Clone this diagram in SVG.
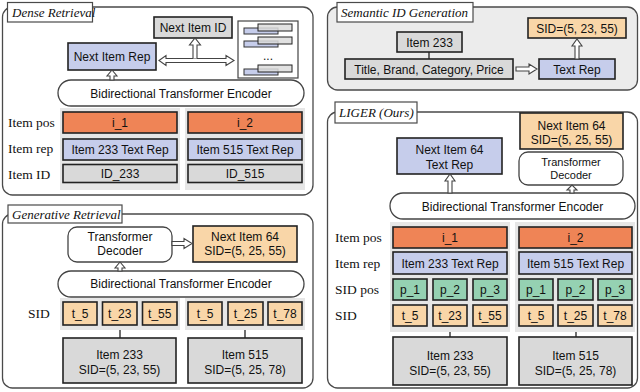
<svg xmlns="http://www.w3.org/2000/svg" width="640" height="392" viewBox="0 0 640 392">
<style>
.frame{fill:#fff;stroke:#4a4a4a;stroke-width:1.3}
.semframe{fill:#ececec;stroke:#4a4a4a;stroke-width:1.3}
.title{fill:#fff;stroke:#4a4a4a;stroke-width:1.2}
.tt{font-family:"Liberation Serif",serif;font-style:italic;font-size:13px;fill:#111}
.lbl{font-family:"Liberation Serif",serif;font-size:13.5px;fill:#111}
.t{font-family:"Liberation Sans",Arial,sans-serif;font-size:12px;fill:#111;text-anchor:middle}
.ts{font-family:"Liberation Sans",Arial,sans-serif;font-size:11px;fill:#111;text-anchor:middle}
.box{stroke:#222;stroke-width:1.6}
.gray{fill:#d9d9d9}
.blue{fill:#c6cdeb}
.orange{fill:#ef8456}
.lorange{fill:#f9d6a8}
.green{fill:#95d1b2}
.white{fill:#fff}
.enc{fill:#fff;stroke:#444;stroke-width:1.3}
.grp{fill:#e6e6e6}
.arr{fill:#fff;stroke:#444;stroke-width:1.1;stroke-linejoin:miter}
.ln{stroke:#222;stroke-width:1.3;fill:none}
.bb{fill:#c6cdeb;stroke:#333;stroke-width:1}
.gb{fill:#dcdcdc;fill-opacity:0.85;stroke:#222;stroke-width:1}
</style>

<!-- Dense Retrieval -->
<g id="dense-panel">
<rect class="frame" x="2.5" y="7" width="310.5" height="188" rx="10"/>
<rect class="title" x="7.5" y="2.5" width="85" height="19.5"/>
<text class="tt" x="12" y="17">Dense Retrieval</text>
</g>
<g id="dense-next-id"><rect class="box gray" x="154" y="17" width="78" height="21"/><text class="t" x="193" y="31.5">Next Item ID</text></g>
<g id="dense-bars">
<rect class="box white" x="238" y="21" width="60" height="57" style="stroke:#444;stroke-width:1.2"/>
<rect class="bb" x="244" y="28" width="34" height="6"/>
<rect class="gb" x="258" y="24" width="34" height="7"/>
<rect class="bb" x="244" y="41" width="34" height="6"/>
<rect class="gb" x="258" y="37" width="34" height="7"/>
<text class="t" x="268" y="60">...</text>
<rect class="bb" x="244" y="69" width="34" height="6"/>
<rect class="gb" x="258" y="65" width="34" height="7"/>
</g>
<g id="dense-next-rep"><rect class="box blue" x="68" y="43" width="88" height="27"/><text class="t" x="112" y="61">Next Item Rep</text></g>
<g id="dense-encoder"><rect class="enc" x="58" y="80" width="246" height="26" rx="13"/><text class="t" x="181" y="98">Bidirectional Transformer Encoder</text></g>
<g id="dense-col1">
<rect class="grp" x="60" y="108" width="120" height="82"/>
<rect class="box orange" x="63" y="112" width="114" height="21"/><text class="t" x="120" y="127">i_1</text>
<rect class="box blue" x="63" y="139" width="114" height="21"/><text class="t" x="120" y="154">Item 233 Text Rep</text>
<rect class="box gray" x="63" y="164.5" width="114" height="18"/><text class="t" x="120" y="178">ID_233</text>
</g>
<g id="dense-col2">
<rect class="grp" x="185" y="108" width="120" height="82"/>
<rect class="box orange" x="188" y="112" width="114" height="21"/><text class="t" x="245" y="127">i_2</text>
<rect class="box blue" x="188" y="139" width="114" height="21"/><text class="t" x="245" y="154">Item 515 Text Rep</text>
<rect class="box gray" x="188" y="164.5" width="114" height="18"/><text class="t" x="245" y="178">ID_515</text>
</g>
<g id="dense-labels">
<text class="lbl" x="8" y="127">Item pos</text>
<text class="lbl" x="8" y="153">Item rep</text>
<text class="lbl" x="8" y="179">Item ID</text>
</g>

<!-- Generative Retrieval -->
<g id="gen-panel">
<rect class="frame" x="2.5" y="214" width="310.5" height="174" rx="10"/>
<rect class="title" x="8" y="205" width="114" height="18"/>
<text class="tt" x="12" y="219">Generative Retrieval</text>
</g>
<g id="gen-decoder"><rect class="enc" x="68" y="227" width="104" height="35" rx="9"/><text class="t" x="120" y="241">Transformer</text><text class="t" x="120" y="254.5">Decoder</text></g>
<g id="gen-next"><rect class="box lorange" x="193" y="226" width="104" height="36"/><text class="t" x="245" y="241">Next Item 64</text><text class="t" x="245" y="254.5">SID=(5, 25, 55)</text></g>
<g id="gen-encoder"><rect class="enc" x="58" y="271" width="246" height="26" rx="13"/><text class="t" x="181" y="288">Bidirectional Transformer Encoder</text></g>
<g id="gen-tokens1">
<rect class="grp" x="60" y="298" width="120" height="32"/>
<rect class="box lorange" x="63" y="302" width="34" height="23"/><text class="t" x="80" y="318">t_5</text>
<rect class="box lorange" x="102.5" y="302" width="34.5" height="23"/><text class="t" x="119.75" y="318">t_23</text>
<rect class="box lorange" x="142.5" y="302" width="34.5" height="23"/><text class="t" x="159.75" y="318">t_55</text>
</g>
<g id="gen-tokens2">
<rect class="grp" x="185" y="298" width="120" height="32"/>
<rect class="box lorange" x="188" y="302" width="34" height="23"/><text class="t" x="205" y="318">t_5</text>
<rect class="box lorange" x="228" y="302" width="35" height="23"/><text class="t" x="245.5" y="318">t_25</text>
<rect class="box lorange" x="268" y="302" width="34" height="23"/><text class="t" x="285" y="318">t_78</text>
</g>
<g id="gen-label"><text class="lbl" x="28" y="318">SID</text></g>
<g id="gen-item233"><rect class="box gray" x="63" y="338" width="113" height="45"/><text class="t" x="119.5" y="359">Item 233</text><text class="t" x="119.5" y="374">SID=(5, 23, 55)</text></g>
<g id="gen-item515"><rect class="box gray" x="188" y="338" width="114" height="45"/><text class="t" x="245" y="359">Item 515</text><text class="t" x="245" y="374">SID=(5, 25, 78)</text></g>

<!-- Semantic ID Generation -->
<g id="sem-panel">
<rect class="semframe" x="327.5" y="7" width="310" height="83" rx="10"/>
<rect class="title" x="337" y="2.5" width="136" height="19.5"/>
<text class="tt" x="341" y="17">Semantic ID Generation</text>
</g>
<g id="sem-item"><rect class="box gray" x="397" y="32" width="65" height="20"/><text class="t" x="429.5" y="46.5">Item 233</text></g>
<g id="sem-attrs"><rect class="box gray" x="345" y="59" width="168" height="20"/><text class="t" x="429" y="73.5">Title, Brand, Category, Price</text></g>
<g id="sem-textrep"><rect class="box blue" x="539" y="59" width="76" height="20"/><text class="t" x="577" y="73.5">Text Rep</text></g>
<g id="sem-sid"><rect class="box lorange" x="528" y="18" width="98" height="20"/><text class="t" x="577" y="32.5">SID=(5, 23, 55)</text></g>

<!-- LIGER -->
<g id="liger-panel">
<rect class="frame" x="327.5" y="112" width="310" height="276" rx="10"/>
<rect class="title" x="335" y="102" width="82" height="21"/>
<text class="tt" x="339" y="117">LIGER (Ours)</text>
</g>
<g id="liger-textrep"><rect class="box blue" x="397" y="138" width="105" height="36"/><text class="t" x="449.5" y="153.5">Next Item 64</text><text class="t" x="449.5" y="168.5">Text Rep</text></g>
<g id="liger-sid"><rect class="box lorange" x="520" y="113" width="103" height="36"/><text class="t" x="571.5" y="129.5">Next Item 64</text><text class="t" x="571.5" y="143.5">SID=(5, 25, 55)</text></g>
<g id="liger-decoder"><rect class="enc" x="519" y="152" width="104" height="33" rx="9"/><text class="ts" x="571" y="166">Transformer</text><text class="ts" x="571" y="179">Decoder</text></g>
<g id="liger-encoder"><rect class="enc" x="390" y="193" width="245" height="26" rx="13"/><text class="t" x="512.5" y="210.5">Bidirectional Transformer Encoder</text></g>
<g id="liger-col1">
<rect class="grp" x="390" y="222" width="120" height="110"/>
<rect class="box orange" x="393" y="227" width="114" height="21"/><text class="t" x="450" y="242">i_1</text>
<rect class="box blue" x="393" y="252" width="114" height="22"/><text class="t" x="450" y="267.5">Item 233 Text Rep</text>
<rect class="box green" x="393" y="279" width="34" height="21"/><text class="t" x="410" y="294">p_1</text>
<rect class="box green" x="433" y="279" width="34" height="21"/><text class="t" x="450" y="294">p_2</text>
<rect class="box green" x="473" y="279" width="34" height="21"/><text class="t" x="490" y="294">p_3</text>
<rect class="box lorange" x="393" y="305" width="34" height="21"/><text class="t" x="410" y="320">t_5</text>
<rect class="box lorange" x="433" y="305" width="34" height="21"/><text class="t" x="450" y="320">t_23</text>
<rect class="box lorange" x="473" y="305" width="34" height="21"/><text class="t" x="490" y="320">t_55</text>
</g>
<g id="liger-col2">
<rect class="grp" x="515" y="222" width="120" height="110"/>
<rect class="box orange" x="519" y="227" width="113" height="21"/><text class="t" x="575.5" y="242">i_2</text>
<rect class="box blue" x="519" y="252" width="113" height="22"/><text class="t" x="575.5" y="267.5">Item 515 Text Rep</text>
<rect class="box green" x="519" y="279" width="34" height="21"/><text class="t" x="536" y="294">p_1</text>
<rect class="box green" x="558" y="279" width="35" height="21"/><text class="t" x="575.5" y="294">p_2</text>
<rect class="box green" x="598" y="279" width="34" height="21"/><text class="t" x="615" y="294">p_3</text>
<rect class="box lorange" x="519" y="305" width="34" height="21"/><text class="t" x="536" y="320">t_5</text>
<rect class="box lorange" x="558" y="305" width="35" height="21"/><text class="t" x="575.5" y="320">t_25</text>
<rect class="box lorange" x="598" y="305" width="34" height="21"/><text class="t" x="615" y="320">t_78</text>
</g>
<g id="liger-labels">
<text class="lbl" x="335" y="242">Item pos</text>
<text class="lbl" x="335" y="268">Item rep</text>
<text class="lbl" x="335" y="294">SID pos</text>
<text class="lbl" x="335" y="320">SID</text>
</g>
<g id="liger-item233"><rect class="box gray" x="393" y="337" width="114" height="48"/><text class="t" x="450" y="360">Item 233</text><text class="t" x="450" y="375">SID=(5, 23, 55)</text></g>
<g id="liger-item515"><rect class="box gray" x="519" y="337" width="113" height="48"/><text class="t" x="575.5" y="360">Item 515</text><text class="t" x="575.5" y="375">SID=(5, 25, 78)</text></g>

<!-- Connectors -->
<g id="connectors">
<!-- dense -->
<path class="arr" d="M110,80 L110,76 L107,76 L112,70 L117,76 L114,76 L114,80 Z"/>
<path class="arr" d="M159,60.5 L166,55.5 L166,58.5 L226,58.5 L226,55.5 L234,60.5 L226,65.5 L226,62.5 L166,62.5 L166,65.5 Z"/>
<path class="arr" d="M193,58.5 L193,45 L189.5,45 L195,38 L200.5,45 L197,45 L197,58.5"/>
<!-- generative -->
<path class="arr" d="M118,271 L118,268 L115,268 L120,262 L125,268 L122,268 L122,271 Z"/>
<path class="arr" d="M172,241.5 L184,241.5 L184,238.5 L192,243.5 L184,248.5 L184,245.5 L172,245.5 Z"/>
<line class="ln" x1="120" y1="330" x2="120" y2="338"/>
<line class="ln" x1="245" y1="330" x2="245" y2="338"/>
<!-- semantic -->
<line class="ln" x1="429" y1="52" x2="429" y2="59"/>
<path class="arr" d="M516,67 L529,67 L529,64 L537,69 L529,74 L529,71 L516,71 Z"/>
<path class="arr" d="M575,59 L575,46 L572,46 L577,39 L582,46 L579,46 L579,59 Z"/>
<!-- liger -->
<path class="arr" d="M448,193 L448,181 L445,181 L450,174 L455,181 L452,181 L452,193 Z"/>
<path class="arr" d="M570,193 L570,190 L567,190 L572,185 L577,190 L574,190 L574,193 Z"/>
<line class="ln" x1="450" y1="332" x2="450" y2="337"/>
<line class="ln" x1="576" y1="332" x2="576" y2="337"/>
</g>
</svg>
